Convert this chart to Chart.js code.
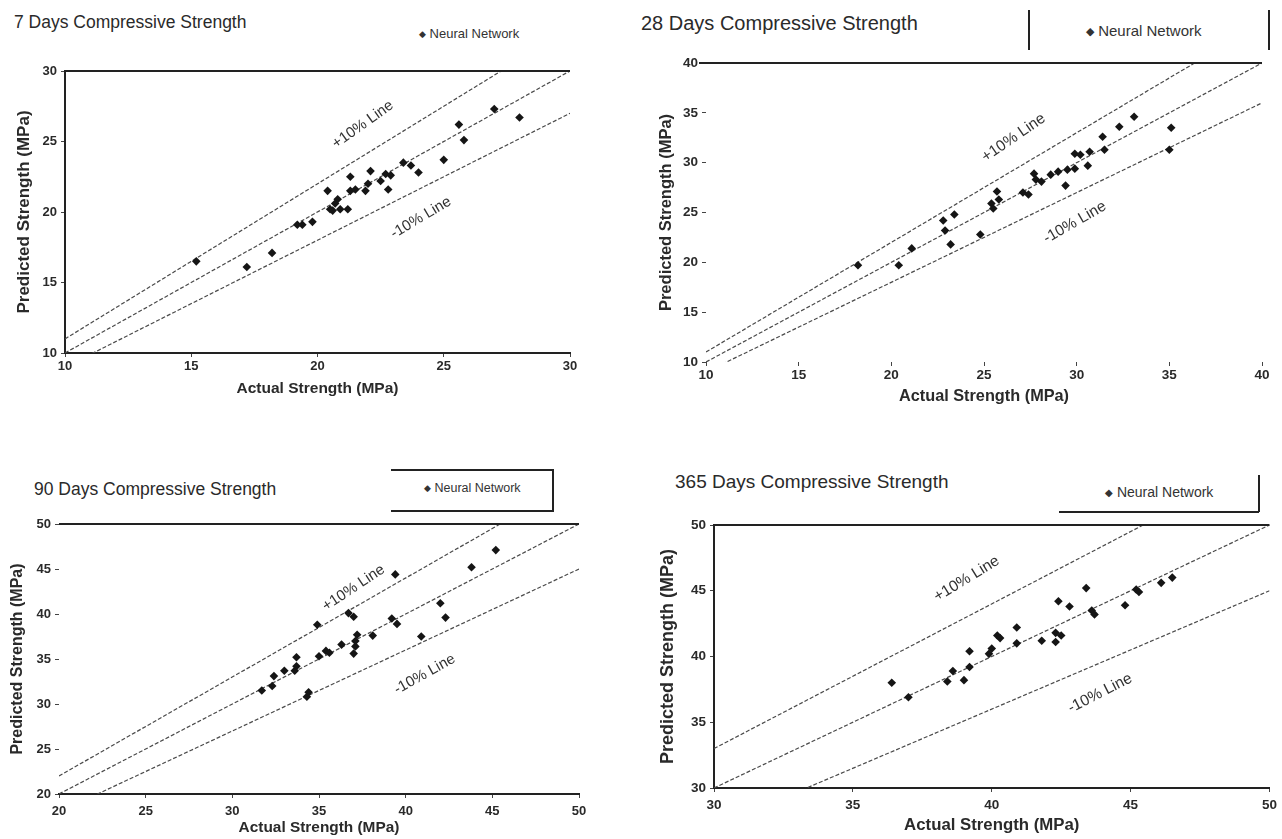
<!DOCTYPE html>
<html>
<head>
<meta charset="utf-8">
<script src="https://cdn.jsdelivr.net/npm/chart.js@4.4.1/dist/chart.umd.min.js"></script>
<style>
  body { margin: 0; background: #fff; width: 1282px; height: 839px; position: relative; overflow: hidden;
         font-family: "Liberation Sans", Arial, sans-serif; color: #222; }
  canvas { position: absolute; }
  .title { position: absolute; line-height: 1; white-space: nowrap; color: #2a2a2a; }
  .legend { position: absolute; line-height: 1; white-space: nowrap; color: #333; }
  .legend span { font-size: 0.7em; vertical-align: 1px; }
  .rule { position: absolute; background: #222; }
</style>
</head>
<body>

<div class="title" style="left:14px; top:14px; font-size:17.5px;">7 Days Compressive Strength</div>
<div class="legend" style="left:419px; top:27px; font-size:13px;"><span>◆</span> Neural Network</div>
<canvas id="c7" width="640" height="415" style="left:0; top:0;"></canvas>

<div class="title" style="left:641px; top:13px; font-size:20px;">28 Days Compressive Strength</div>
<div class="legend" style="left:1086px; top:23px; font-size:15px;"><span>◆</span> Neural Network</div>
<div class="rule" style="left:1028px; top:10px; width:1.5px; height:40px;"></div>
<div class="rule" style="left:1268px; top:10px; width:1.5px; height:40px;"></div>
<canvas id="c28" width="642" height="420" style="left:640px; top:0;"></canvas>

<div class="title" style="left:34px; top:481px; font-size:17.5px;">90 Days Compressive Strength</div>
<div class="legend" style="left:424px; top:482px; font-size:12.5px;"><span>◆</span> Neural Network</div>
<div class="rule" style="left:391px; top:469px; width:161px; height:1.5px;"></div>
<div class="rule" style="left:391px; top:510px; width:161px; height:1.5px;"></div>
<div class="rule" style="left:552px; top:469px; width:1.5px; height:43px;"></div>
<canvas id="c90" width="640" height="419" style="left:0; top:420px;"></canvas>

<div class="title" style="left:675px; top:472px; font-size:19px;">365 Days Compressive Strength</div>
<div class="legend" style="left:1105px; top:485px; font-size:14px;"><span>◆</span> Neural Network</div>
<div class="rule" style="left:1258px; top:475px; width:1.5px; height:37px;"></div>
<div class="rule" style="left:1059px; top:511px; width:200px; height:1.5px;"></div>
<canvas id="c365" width="642" height="419" style="left:640px; top:420px;"></canvas>

<script>
// ---- data (actual vs predicted strength, MPa) ----
var actual7    = [15.2, 17.2, 18.2, 19.2, 19.4, 19.8, 20.4, 20.5, 20.6, 20.7, 20.8, 20.9, 21.2, 21.3, 21.3, 21.5, 21.9, 22.0, 22.1, 22.5, 22.7, 22.8, 22.9, 23.4, 23.7, 24.0, 25.0, 25.6, 25.8, 27.0, 28.0];
var predicted7 = [16.5, 16.1, 17.1, 19.1, 19.1, 19.3, 21.5, 20.2, 20.1, 20.6, 20.9, 20.2, 20.2, 22.5, 21.5, 21.6, 21.5, 22.0, 22.9, 22.2, 22.7, 21.6, 22.6, 23.5, 23.3, 22.8, 23.7, 26.2, 25.1, 27.3, 26.7];

var actual28    = [18.2, 20.4, 21.1, 22.8, 22.9, 23.2, 23.4, 24.8, 25.4, 25.5, 25.7, 25.8, 27.1, 27.4, 27.7, 27.8, 28.1, 28.6, 29.0, 29.4, 29.5, 29.9, 29.9, 30.2, 30.6, 30.7, 31.5, 31.4, 32.3, 33.1, 35.1, 35.0];
var predicted28 = [19.7, 19.7, 21.4, 24.2, 23.2, 21.8, 24.8, 22.8, 25.9, 25.4, 27.1, 26.3, 27.0, 26.8, 28.9, 28.3, 28.1, 28.8, 29.1, 27.7, 29.3, 30.9, 29.4, 30.8, 29.7, 31.1, 31.3, 32.6, 33.6, 34.6, 33.5, 31.3];

var actual90    = [31.7, 32.3, 32.4, 33.0, 33.6, 33.7, 33.7, 34.3, 34.4, 35.0, 34.9, 35.4, 35.6, 36.3, 36.7, 37.0, 37.0, 37.1, 37.1, 37.2, 38.1, 39.2, 39.5, 39.4, 40.9, 42.0, 42.3, 43.8, 45.2];
var predicted90 = [31.5, 32.0, 33.1, 33.7, 33.7, 35.2, 34.2, 30.8, 31.3, 35.3, 38.8, 35.9, 35.7, 36.6, 40.1, 39.7, 35.6, 36.4, 37.0, 37.7, 37.6, 39.5, 38.9, 44.4, 37.5, 41.2, 39.6, 45.2, 47.1];

var actual365    = [36.4, 37.0, 38.4, 38.6, 39.0, 39.2, 39.2, 39.9, 40.0, 40.2, 40.3, 40.9, 40.9, 41.8, 42.3, 42.3, 42.5, 42.4, 42.8, 43.4, 43.6, 43.7, 44.8, 45.2, 45.3, 46.1, 46.5];
var predicted365 = [38.0, 36.9, 38.1, 38.9, 38.2, 39.2, 40.4, 40.2, 40.6, 41.6, 41.4, 41.0, 42.2, 41.2, 41.8, 41.1, 41.6, 44.2, 43.8, 45.2, 43.5, 43.2, 43.9, 45.1, 44.9, 45.6, 46.0];

// axis ranges (both axes) and tick step
var range7 = [10, 30], range28 = [10, 40], range90 = [20, 50], range365 = [30, 50];
var tickStep = 5;

// reference lines: predicted = factor * actual
var refFactors = [1.0, 1.1, 0.9];
var refNames = ['Equality', '+10% Line', '-10% Line'];

var SANS = '"Liberation Sans", Arial, sans-serif';

function makePanel(id, actual, predicted, range, spec) {
    var pts = actual.map(function (v, i) { return { x: v, y: predicted[i] }; });
    var datasets = [{
        label: 'Neural Network',
        data: pts,
        pointStyle: 'rectRot',
        pointRadius: 4.3,
        backgroundColor: '#151515',
        borderColor: '#151515',
        borderWidth: 0,
        showLine: false,
        order: 0
    }];
    refFactors.forEach(function (f, i) {
        datasets.push({
            label: refNames[i],
            data: [{ x: range[0], y: f * range[0] }, { x: range[1], y: f * range[1] }],
            showLine: true,
            pointRadius: 0,
            borderColor: '#4a4a4a',
            borderWidth: 1.2,
            borderDash: [4, 2],
            clip: 0,
            order: 1
        });
    });

    var box = spec.box, area = spec.area;
    var yW = area[0] - box[0];
    var xH = spec.xTitleY + spec.xTitleSize * 0.6 + 4 - area[3];
    var tickFont = { family: SANS, size: spec.tickSize, weight: 'bold' };

    new Chart(document.getElementById(id).getContext('2d'), {
        type: 'scatter',
        data: { datasets: datasets },
        options: {
            responsive: false,
            animation: false,
            events: [],
            layout: {
                padding: {
                    left: 0,
                    top: area[1] - box[1],
                    right: box[0] + box[2] - area[2],
                    bottom: box[1] + box[3] - area[3] - xH
                }
            },
            plugins: {
                legend: { display: false },
                tooltip: { enabled: false },
                refLabels: {
                    labels: [
                        { text: '+10% Line', x: spec.plusAt[0], y: spec.plusAt[1], f: 1.1 },
                        { text: '-10% Line', x: spec.minusAt[0], y: spec.minusAt[1], f: 0.9 }
                    ]
                }
            },
            scales: {
                x: {
                    type: 'linear',
                    min: range[0], max: range[1],
                    afterFit: function (s) { s.height = xH; },
                    border: { display: spec.bottom, color: '#222', width: 2 },
                    grid: { drawOnChartArea: false, drawTicks: true, tickLength: 4, color: '#444' },
                    ticks: { stepSize: tickStep, color: '#2a2a2a', font: tickFont, padding: spec.xTickPad, maxRotation: 0 },
                    title: {
                        display: true, text: 'Actual Strength (MPa)', color: '#2a2a2a',
                        font: { family: SANS, size: spec.xTitleSize, weight: 'bold' },
                        padding: { top: 0, bottom: 4 }
                    }
                },
                y: {
                    type: 'linear',
                    min: range[0], max: range[1],
                    afterFit: function (s) { s.width = yW; },
                    border: { display: spec.left, color: '#222', width: 2 },
                    grid: { drawOnChartArea: false, drawTicks: true, tickLength: 4, color: '#444' },
                    ticks: { stepSize: tickStep, color: '#2a2a2a', font: tickFont, padding: 4 },
                    title: {
                        display: true, text: 'Predicted Strength (MPa)', color: '#2a2a2a',
                        font: { family: SANS, size: spec.yTitleSize, weight: 'bold' },
                        padding: { top: spec.yTitleX - box[0] - spec.yTitleSize * 0.6, bottom: 0 }
                    }
                }
            }
        },
        plugins: [{
            // top frame line and the rotated "+10% Line" / "-10% Line" notes
            id: 'refLabels',
            afterDraw: function (chart, args, opts) {
                var a = chart.chartArea, ctx = chart.ctx;
                var xs = chart.scales.x, ys = chart.scales.y;
                ctx.save();
                ctx.strokeStyle = '#222';
                ctx.lineWidth = 2;
                ctx.beginPath(); ctx.moveTo(a.left - spec.topLead, a.top); ctx.lineTo(a.right, a.top); ctx.stroke();
                ctx.fillStyle = '#333';
                ctx.font = spec.noteSize + 'px ' + SANS;
                ctx.textAlign = 'center';
                ctx.textBaseline = 'middle';
                opts.labels.forEach(function (lb) {
                    var px = xs.getPixelForValue(lb.x), py = ys.getPixelForValue(lb.y);
                    var dx = xs.getPixelForValue(range[1]) - xs.getPixelForValue(range[0]);
                    var dy = ys.getPixelForValue(lb.f * range[0]) - ys.getPixelForValue(lb.f * range[1]);
                    ctx.save();
                    ctx.translate(px, py);
                    ctx.rotate(-Math.atan2(dy, dx) - 4 * Math.PI / 180);
                    ctx.fillText(lb.text, 0, 0);
                    ctx.restore();
                });
                ctx.restore();
            }
        }]
    });
}

makePanel('c7', actual7, predicted7, range7, {
    box: [0, 0, 640, 415], area: [65, 71, 570, 353],
    xTitleY: 389, xTitleSize: 15.5, yTitleX: 24, yTitleSize: 17,
    tickSize: 13, xTickPad: 2, noteSize: 15, topLead: 0,
    left: true, bottom: true,
    plusAt: [21.8, 26.2], minusAt: [24.1, 19.6]
});
makePanel('c28', actual28, predicted28, range28, {
    box: [640, 0, 642, 420], area: [706, 63, 1262, 362],
    xTitleY: 397, xTitleSize: 16.3, yTitleX: 666, yTitleSize: 16.5,
    tickSize: 13.5, xTickPad: 1, noteSize: 15.5, topLead: 7,
    left: false, bottom: false,
    plusAt: [26.6, 32.5], minusAt: [29.9, 24.0]
});
makePanel('c90', actual90, predicted90, range90, {
    box: [0, 420, 640, 419], area: [59, 524, 579, 794],
    xTitleY: 828, xTitleSize: 15.4, yTitleX: 18, yTitleSize: 16,
    tickSize: 13, xTickPad: 6, noteSize: 15, topLead: 0,
    left: false, bottom: true,
    plusAt: [37.0, 42.9], minusAt: [41.1, 33.3]
});
makePanel('c365', actual365, predicted365, range365, {
    box: [640, 420, 642, 419], area: [714, 525, 1273, 788],
    xTitleY: 825, xTitleSize: 16.8, yTitleX: 668, yTitleSize: 18,
    tickSize: 13.5, xTickPad: 5, noteSize: 15.5, topLead: 0,
    left: true, bottom: true,
    plusAt: [39.1, 45.9], minusAt: [43.9, 37.2]
});
</script>
</body>
</html>
